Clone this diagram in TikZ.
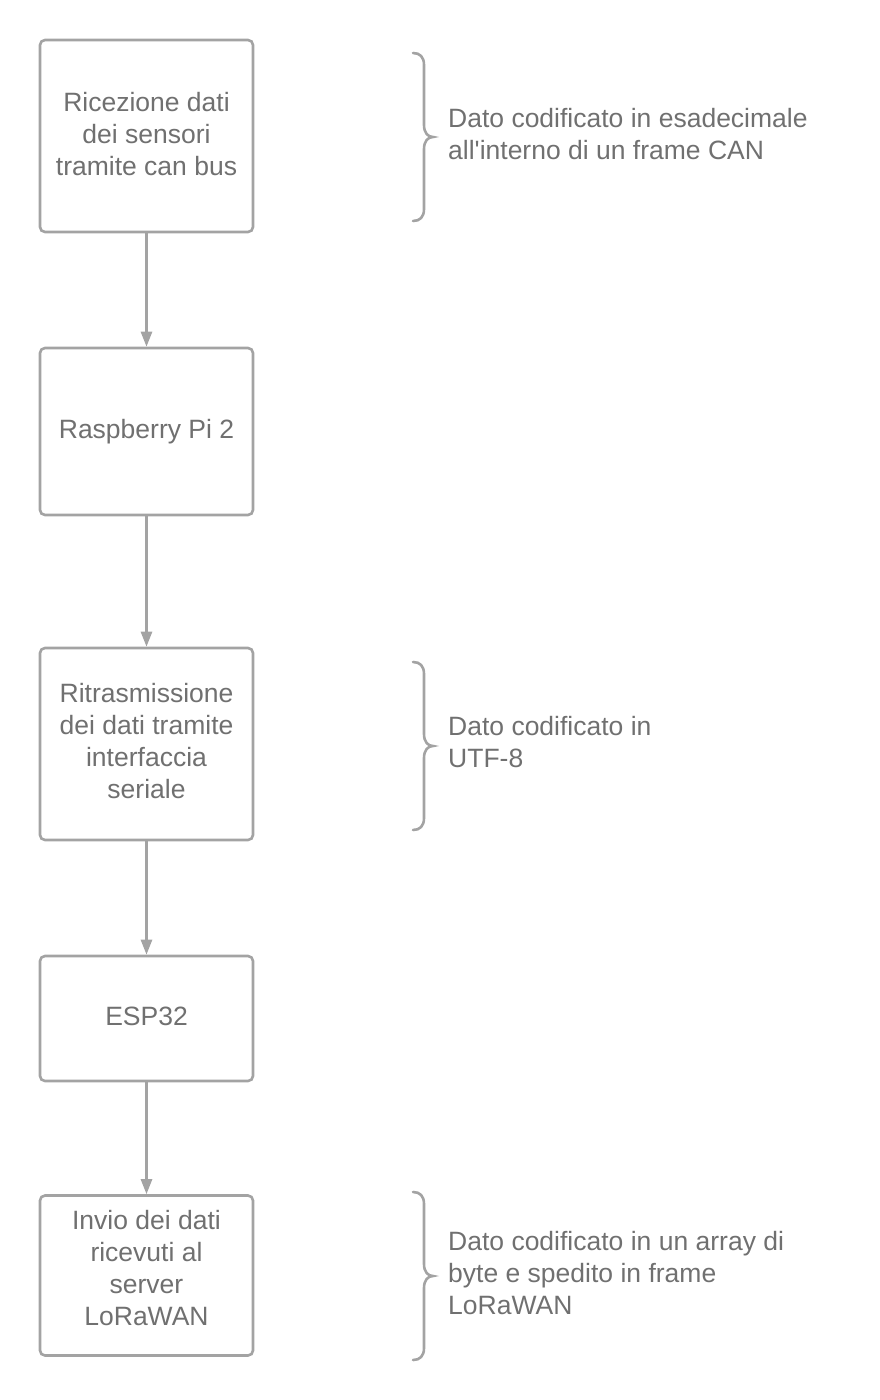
\documentclass[tikz,border=0pt]{standalone}
\usepackage{fontspec}
\usetikzlibrary{arrows.meta}
\setmainfont{Liberation Sans}
\definecolor{txt}{HTML}{707070}
\definecolor{ln}{HTML}{A3A3A3}
\newcommand\bracedraw[3]{%
  \draw[bracestyle] (413,#1) .. controls (420,#1) and (424,#1+4) .. (424,#1+12)
    -- (424,#2-12) .. controls (424,#2-4) and (428,#2) .. (433,#2)
    .. controls (428,#2) and (424,#2+4) .. (424,#2+12)
    -- (424,#3-12) .. controls (424,#3-4) and (420,#3) .. (413,#3);}
\begin{document}
\begin{tikzpicture}[x=1pt,y=-1pt,
  box/.style={draw=ln, line width=2.6pt, rounded corners=5pt, fill=white, minimum width=213pt, inner sep=0pt, text=txt, align=center, font=\fontsize{26.5}{32}\selectfont},
  lbl/.style={text=txt, align=left, anchor=west, inner sep=0pt, font=\fontsize{26.5}{32}\selectfont},
  arr/.style={draw=ln, line width=2.6pt, -{Triangle[length=15pt,width=11pt]}},
  bracestyle/.style={draw=ln, line width=2.6pt, line cap=round}]
\useasboundingbox (0,0) rectangle (880,1400);
\node[box, minimum height=192pt] (b1) at (146.5,136) {};
\node[text=txt, align=center, inner sep=0pt, font=\fontsize{26.5}{32}\selectfont] (t1) at (146.5,134) {Ricezione dati\\dei sensori\\tramite can bus};
\node[box, minimum height=167pt] (b2) at (146.5,431.5) {Raspberry Pi 2};
\node[box, minimum height=192pt] (b3) at (146.5,744) {};
\node[text=txt, align=center, inner sep=0pt, font=\fontsize{26.5}{32}\selectfont] (t3) at (146.5,741) {Ritrasmissione\\dei dati tramite\\interfaccia\\seriale};
\node[box, minimum height=125pt] (b4) at (146.5,1018.5) {};
\node[text=txt, inner sep=0pt, font=\fontsize{26.5}{32}\selectfont] (t4) at (146.5,1016.5) {ESP32};
\node[box, minimum height=160pt] (b5) at (146.5,1275.5) {};
\node[text=txt, align=center, inner sep=0pt, font=\fontsize{26.5}{32}\selectfont] (t5) at (146.5,1268) {Invio dei dati\\ricevuti al\\server\\LoRaWAN};
\draw[arr] (b1) -- (b2);
\draw[arr] (b2) -- (b3);
\draw[arr] (b3) -- (b4);
\draw[arr] (b4) -- (b5);
\bracedraw{53}{137}{221}
\bracedraw{662}{746}{830}
\bracedraw{1192}{1276}{1360}
\node[lbl] (l1) at (448,134) {Dato codificato in esadecimale\\all\textquotesingle interno di un frame CAN};
\node[lbl] (l2) at (448,742) {Dato codificato in\\UTF-8};
\node[lbl] (l3) at (448,1273) {Dato codificato in un array di\\byte e spedito in frame\\LoRaWAN};
\end{tikzpicture}
\end{document}
